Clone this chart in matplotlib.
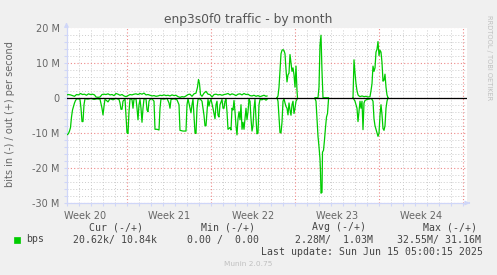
"""munin: enp3s0f0 traffic - by month"""

import numpy as np
import matplotlib.pyplot as plt
from matplotlib.patches import Rectangle

nan = np.nan

# sample times in hours since the start of the window (800 h shown), values in Mbit/s
hours_in = [0, 2, 4, 6, 8, 10, 12, 14, 16, 18, 20, 23, 27, 29, 31, 33, 35, 37, 43, 49,
            55, 61, 67, 71, 73, 75, 77, 83, 87, 93, 99, 105, 107, 109, 111, 113, 117, 119,
            121, 123, 125, 127, 131, 133, 135, 139, 141, 143, 145, 147, 149, 151, 153, 155,
            159, 161, 163, 165, 167, 171, 175, 177, 181, 185, 187, 189, 195, 201, 205, 207,
            209, 215, 221, 225, 227, 233, 239, 241, 243, 247, 249, 251, 253, 255, 257, 259,
            261, 263, 267, 271, 273, 275, 277, 279, 281, 283, 285, 287, 289, 293, 297, 299,
            301, 303, 305, 307, 311, 313, 315, 317, 319, 321, 323, 327, 329, 331, 333, 335,
            337, 339, 341, 343, 345, 347, 349, 351, 353, 355, 357, 359, 361, 363, 365, 367,
            369, 371, 373, 375, 377, 379, 381, 383, 385, 387, 391, 395, 399, 401,
            411,
            421, 423, 425, 427, 429, 431, 433, 435, 437, 439, 441, 443, 445, 447, 449, 451,
            453, 455, 457, 459, 461,
            480,
            497, 499, 501, 503, 505, 507, 508, 509, 511, 512, 514, 516, 518, 520, 522, 524,
            550,
            573, 575, 577, 579, 581, 583, 585, 587, 589, 591, 593, 595, 597, 601, 605, 609,
            611, 613, 615, 617, 619, 621, 623, 625, 627, 629, 631, 633, 635, 637, 639, 641, 643]
bits_in = [-10.6, -10.5, -10.2, -9.5, -8.5, -5.5, -3.5, -2.5, -1.5, -0.8, -0.4, -0.3, -0.5,
           -3, -6.8, -6.8, -2, -0.3, -0.4, -0.2, -0.5, -0.3, -0.4, -3, -4.9, -2.5, -0.4, -1.2,
           -0.3, -0.6, -0.2, -0.5, -1.5, -3.3, -3.3, -1.0, -0.3, -5, -10, -10.2, -4, -0.3,
           -0.5, -3, -0.4, -0.3, -3, -6.3, -2, -0.5, -3, -7, -3, -0.4, -0.3, -3.5, -4, -1,
           -0.5, -0.3, -1, -9, -9, -9.2, -3, -0.3, -0.4, -0.2, -1.5, -3, -0.5, -0.3, -0.6, -2,
           -9.3, -9.5, -9.5, -2, -0.3, -3, -4.3, -2, -0.4, -5, -10, -10.2, -3, -0.5, -0.3, -1,
           -3, -5, -8, -8, -4, -0.5, -2.4, -1, -0.5, -3, -6, -2, -1, -5, -5.5, -2, -0.5, -3,
           -3, -1, -0.5, -4, -9, -8.5, -9.2, -3, -3.5, -0.8, -4, -8, -10.6, -6, -4, -6.3, -2,
           -9, -7, -9, -6, -3, -6.3, -4, -0.5, -1, -6, -9.5, -8, -3, -0.5, -6, -10.3, -10, -2,
           -0.5, -0.6, -0.3, -0.7, -0.5,
           nan,
           0, -1, -5.5, -10, -10, -7, -1, -0.3, -1.5, -2.5, -3, -4.9, -1.5, -3.5, -5, -2, -1,
           -4.5, -3, -1, -0.5,
           nan,
           -0.3, -1, -6, -11, -14, -17.5, -21, -27.2, -27, -15.5, -15, -12, -8.5, -5.5, -4.5,
           -0.5,
           nan,
           0, -0.5, -1, -2, -3, -6.8, -4, -1, -3, -1, -9.1, -1.5, -0.8, -0.5, -0.4, -0.2, -0.5,
           -1, -6, -8, -9, -10, -11, -10.2, -5, -2, -4.8, -8.8, -9.3, -8, -3, -1, 0]

hours_out = [0, 4, 8, 12, 16, 20, 24, 28, 32, 36, 40, 44, 48, 52, 56, 59, 63, 67, 71, 75,
             79, 83, 87, 91, 95, 99, 103, 107, 111, 115, 119, 123, 127, 131, 135, 139, 143,
             147, 151, 155, 159, 163, 167, 171, 175, 179, 183, 187, 191, 195, 199, 203, 207,
             211, 215, 219, 223, 227, 231, 235, 239, 243, 247, 251, 255, 259, 262, 264, 266,
             268, 271, 275, 279, 283, 287, 291, 295, 299, 303, 307, 311, 315, 319, 323, 327,
             331, 335, 339, 343, 347, 351, 355, 359, 363, 367, 371, 375, 379, 383, 387, 391,
             395, 399, 401,
             411,
             421, 423, 425, 427, 429, 431, 433, 435, 437, 439, 441, 443, 445, 447, 449, 451,
             453, 455, 457, 459, 461, 462,
             480,
             497, 503, 505, 507, 509, 511, 513, 524,
             550,
             573, 575, 577, 579, 581, 583, 585, 587, 591, 595, 599, 603, 607, 609, 611, 613,
             615, 617, 619, 621, 623, 625, 627, 629, 631, 633, 635, 637, 639, 641, 643]
bits_out = [0.8, 0.9, 0.8, 0.6, 0.4, 0.9, 0.8, 1.2, 0.9, 1.0, 0.7, 1.1, 0.9, 1.0, 0.8, 0.2,
            0.1, 0.2, 0.9, 1.0, 0.9, 1.1, 0.8, 0.9, 0.6, 1.2, 1.0, 0.7, 0.9, 0.5, 0.3, 0.6,
            0.9, 0.8, 1.0, 1.1, 0.9, 1.2, 1.0, 1.3, 0.8, 0.9, 0.7, 0.5, 0.6, 0.4, 0.5, 0.7,
            0.6, 0.8, 0.6, 0.7, 0.5, 0.8, 0.6, 0.7, 0.3, 0.1, 0.3, 0.2, 0.5, 0.9, 1.0, 0.4,
            1.1, 1.3, 3, 5.2, 4, 0.9, 0.4, 1.3, 1.8, 1.0, 0.9, 0.2, 0.9, 1.0, 0.8, 0.9, 0.7,
            0.9, 1.0, 1.2, 0.8, 1.1, 0.9, 0.6, 1.0, 1.1, 0.8, 1.2, 0.9, 1.0, 0.6, 0.5, 0.7,
            0.4, 0.6, 0.3, 0.5, 0.7, 0.4, 0.5,
            nan,
            0, 0.5, 3, 8, 12.5, 13.5, 13.7, 13.4, 12.5, 8, 4.5, 6.5, 7, 12.3, 10, 7.5, 8.5,
            6.5, 3, 9, 2, 0,
            nan,
            0, 0, 3, 15, 17.8, 7.5, 0, 0,
            nan,
            0, 10.8, 7, 4, 2, 0.8, 0.5, 0.3, 0.5, 0.3, 0.4, 0.2, 0.3, 2, 4, 9, 7.5, 8.5, 13,
            13.8, 16, 12, 13.5, 13, 10, 4.7, 5, 6.7, 3, 0.8, 0]

week_starts = [121, 289, 457, 625, 793]
week_labels = ["Week 20", "Week 21", "Week 22", "Week 23", "Week 24"]

legend_header = ["Cur (-/+)", "Min (-/+)", "Avg (-/+)", "Max (-/+)"]
legend_values = ["20.62k/ 10.84k", "0.00 /  0.00", "2.28M/  1.03M", "32.55M/ 31.16M"]

W, H = 497, 275
FONT = '#666666'
AXIS = '#CFD6F8'
GREEN = '#00CC00'
MGRID = '#EE8888'
MONO = 'DejaVu Sans Mono'


def fx(px):
    return px / W


def fy(py):
    return 1 - py / H


fig = plt.figure(figsize=(W / 100, H / 100), dpi=100, facecolor='#F0F0F0')
ax = fig.add_axes([fx(66.5), fy(203), 400 / W, 175.5 / H], facecolor='white')
ax.set_xlim(0, 800)
ax.set_ylim(-30, 20)

# grid: daily / 2M minor in grey, weekly / 10M major in red
days = [h for h in range(1, 800, 24) if h not in week_starts]
for h in days:
    ax.axvline(h, color='#CCCCCC', lw=0.7, ls=(0, (1, 2)), zorder=1)
for v in range(-28, 20, 2):
    if v % 10:
        ax.axhline(v, color='#CCCCCC', lw=0.7, ls=(0, (1, 2)), zorder=1)
for h in week_starts:
    ax.axvline(h, color=MGRID, lw=0.8, ls=(0, (1, 2)), zorder=1.5)
for v in range(-30, 21, 10):
    ax.axhline(v, color=MGRID, lw=0.8, ls=(0, (1, 2)), zorder=1.5)

ax.plot(hours_in, bits_in, color=GREEN, lw=0.9, zorder=3)
ax.plot(hours_out, bits_out, color=GREEN, lw=0.9, zorder=3)
ax.axhline(0, color='black', lw=0.9, zorder=4)

# axes
for s in ['top', 'right']:
    ax.spines[s].set_visible(False)
for s in ['left', 'bottom']:
    ax.spines[s].set_color(AXIS)
    ax.spines[s].set_linewidth(0.9)
ax.annotate('', xy=(0, 1.045), xytext=(0, 1), xycoords='axes fraction',
            arrowprops=dict(arrowstyle='-|>', color=AXIS, lw=0.9, mutation_scale=6))
ax.annotate('', xy=(1.015, 0), xytext=(1, 0), xycoords='axes fraction',
            arrowprops=dict(arrowstyle='-|>', color=AXIS, lw=0.9, mutation_scale=6))

ax.set_yticks(range(-30, 21, 10))
ax.set_yticklabels([f"{v} M" if v else "0" for v in range(-30, 21, 10)])
ax.set_yticks(range(-30, 21, 2), minor=True)
ax.set_xticks([h - 84 for h in week_starts])
ax.set_xticklabels(week_labels)
ax.set_xticks(week_starts + days, minor=True)
ax.tick_params(axis='y', which='both', colors=AXIS, length=2, width=0.8,
               labelcolor=FONT, labelsize=7, pad=3)
ax.tick_params(axis='x', which='major', length=0, labelcolor=FONT, labelsize=7, pad=6)
ax.tick_params(axis='x', which='minor', colors=AXIS, length=2, width=0.8)

fig.text(0.5, fy(19), "enp3s0f0 traffic - by month", ha='center', va='center',
         fontsize=8.8, color='#555555')
fig.text(fx(10), fy(114), "bits in (-) / out (+) per second", rotation=90,
         ha='center', va='center', fontsize=7, color=FONT)
fig.text(fx(489), fy(58), "RRDTOOL / TOBI OETIKER", rotation=270, ha='center',
         va='center', fontsize=4.8, color='#C0C0C0')

# legend
fig.add_artist(Rectangle((fx(14), fy(243)), 5.5 / W, 6 / H, transform=fig.transFigure,
                         fc=GREEN, ec=GREEN, lw=0.5))
fig.text(fx(26.5), fy(239.5), "bps", ha='left', va='center', fontsize=7.1,
         family=MONO, color='#444444')
for x, label in zip([89, 200.7, 311.7, 422.7], legend_header):
    fig.text(fx(x), fy(227.5), label, ha='left', va='center', fontsize=7.1,
             family=MONO, color='#444444')
for x, label in zip([72.7, 186.7, 295, 396.7], legend_values):
    fig.text(fx(x), fy(239.5), label, ha='left', va='center', fontsize=7.1,
             family=MONO, color='#444444')
fig.text(fx(482.7), fy(251.7), "Last update: Sun Jun 15 05:00:15 2025", ha='right',
         va='center', fontsize=7.1, family=MONO, color='#444444')
fig.text(fx(247.7), fy(264), "Munin 2.0.75", ha='center', va='center', fontsize=5.3,
         color='#C0C0C0')

fig.savefig('out.png', dpi=100, facecolor=fig.get_facecolor())
